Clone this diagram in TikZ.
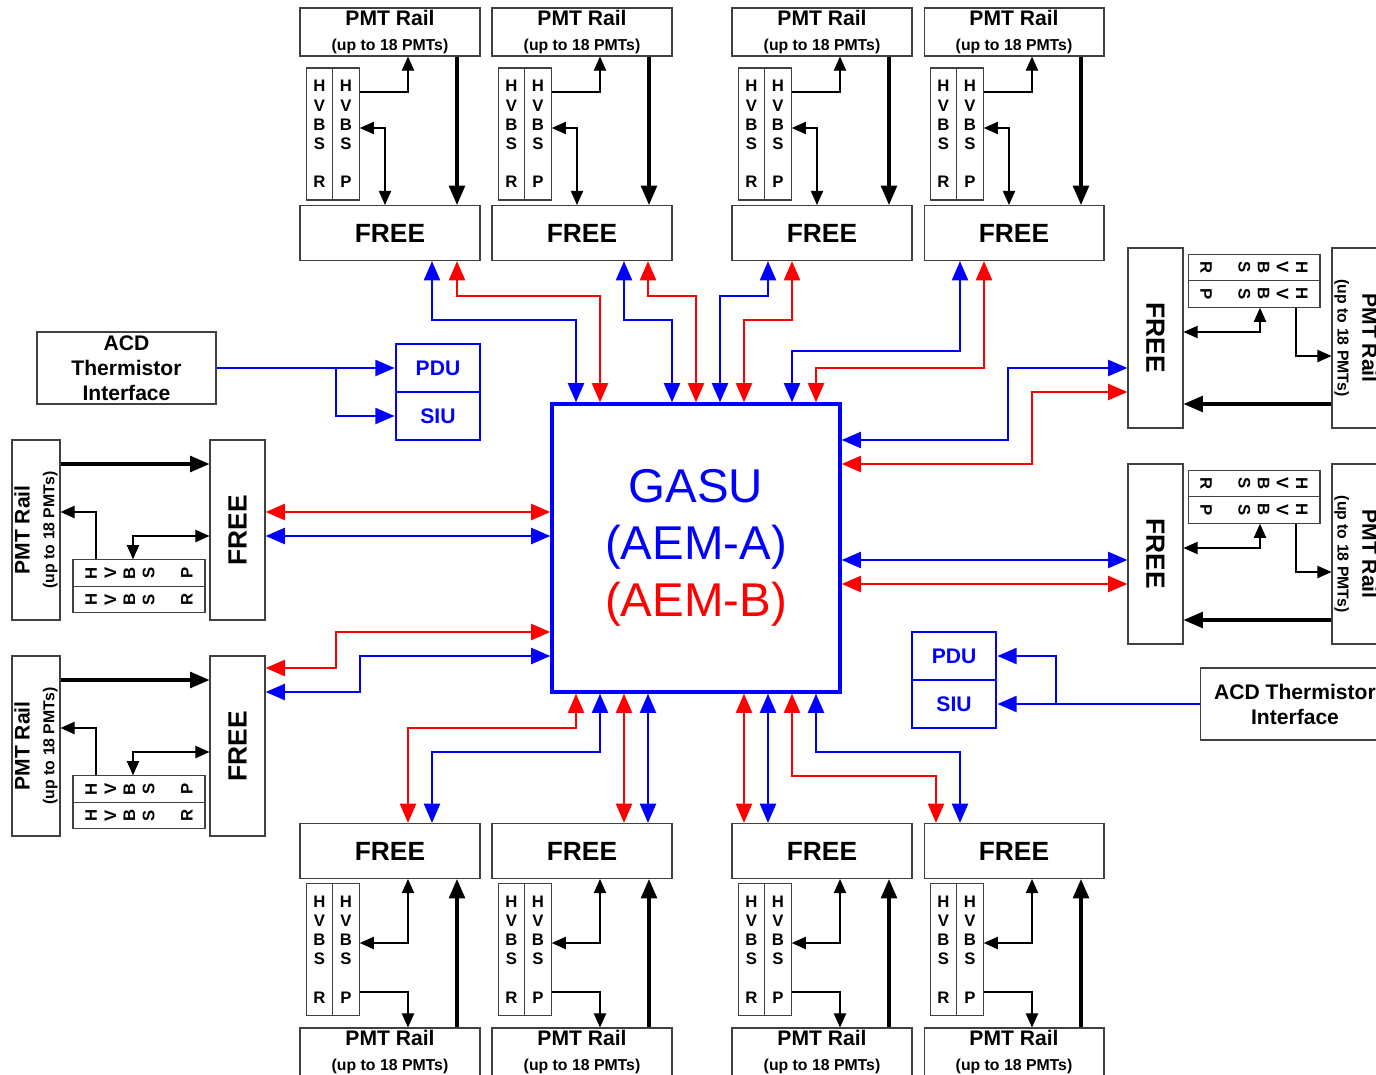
\documentclass[tikz,border=0pt]{standalone}
\usepackage{fontspec}
\setmainfont{Liberation Sans}
\usetikzlibrary{arrows.meta}

\newcommand{\railtxt}{PMT Rail\\[1pt]{\fontsize{9}{11}\selectfont (up to 18 PMTs)}}
\newcommand{\topmod}[2]{\begin{scope}[shift = {(#2,0)}]
\node[box, rail] (#1rail) at (90,32) {\railtxt};
\node[box, col] (#1r) at (19.5,134) {H\\V\\B\\S\\[10.9pt]R};
\node[box, col] (#1p) at (46,134) {H\\V\\B\\S\\[10.9pt]P};
\node[box, free] (#1free) at (90,233) {FREE};
\draw[thn, -tipsml] (#1p.east |- 0,92) -| (#1rail.south -| 108,0);
\draw[thn, tipsml-tipsml] (#1p.east |- 0,128) -| (#1free.north -| 85,0);
\draw[pow] (#1rail.south -| 157,0) -- (#1free.north -| 157,0);
\end{scope}}
\newcommand{\botmod}[2]{\begin{scope}[shift = {(#2,0)}]
\node[box, free] (#1free) at (90,851) {FREE};
\node[box, col] (#1r) at (19.5,949.5) {H\\V\\B\\S\\[10.9pt]R};
\node[box, col] (#1p) at (46,949.5) {H\\V\\B\\S\\[10.9pt]P};
\node[box, rail] (#1rail) at (90,1052) {\railtxt};
\draw[thn, tipsml-tipsml] (#1p.east |- 0,943) -| (#1free.south -| 108,0);
\draw[thn, -tipsml] (#1p.east |- 0,992) -| (#1rail.north -| 108,0);
\draw[pow] (#1rail.north -| 157,0) -- (#1free.south -| 157,0);
\end{scope}}
\newcommand{\leftmod}[2]{\begin{scope}[shift = {(0,#2)}]
\node[box, rail, rotate = 90] (#1rail) at (36,90) {\railtxt};
\node[box, col, rotate = 90] (#1p) at (139,133) {H\\V\\B\\S\\[10.9pt]P};
\node[box, col, rotate = 90] (#1r) at (139,159.5) {H\\V\\B\\S\\[10.9pt]R};
\node[box, free, rotate = 90] (#1free) at (237.5,90) {FREE};
\draw[thn, -tipsml] (#1p.east -| 96,0) |- (#1rail.south |- 0,72);
\draw[thn, tipsml-tipsml] (#1p.east -| 133,0) |- (#1free.north |- 0,96);
\draw[pow] (#1rail.south |- 0,24) -- (#1free.north |- 0,24);
\end{scope}}
\newcommand{\rightmod}[2]{\begin{scope}[shift = {(0,#2)}]
\node[box, free, rotate = -90] (#1free) at (1155.5,90) {FREE};
\node[box, col, rotate = -90] (#1r) at (1254,19.5) {H\\V\\B\\S\\[10.9pt]R};
\node[box, col, rotate = -90] (#1p) at (1254,46) {H\\V\\B\\S\\[10.9pt]P};
\node[box, rail, rotate = -90] (#1rail) at (1356,90) {\railtxt};
\draw[thn, -tipsml] (#1p.east -| 1296,0) |- (#1rail.south |- 0,108);
\draw[thn, tipsml-tipsml] (#1p.east -| 1260,0) |- (#1free.north |- 0,84);
\draw[pow] (#1rail.south |- 0,156) -- (#1free.north |- 0,156);
\end{scope}}

\begin{document}
\begin{tikzpicture}[x = 0.02cm, y = -0.02cm,
 tipbig/.tip = {Triangle[length = 11pt, width = 9pt]},
 tipsml/.tip = {Triangle[length = 8pt, width = 7pt]},
 box/.style = {draw = black!75, line width = 0.6pt, inner sep = 0pt, align = center, font = \bfseries},
 rail/.style = {minimum width = 3.6cm, minimum height = 0.96cm, font = \fontsize{12}{13}\selectfont\bfseries},
 col/.style = {minimum width = 0.53cm, minimum height = 2.64cm, font = \fontsize{9.5}{10.9}\selectfont\bfseries},
 free/.style = {minimum width = 3.6cm, minimum height = 1.1cm, font = \fontsize{15}{18}\selectfont\bfseries},
 acd/.style = {minimum height = 1.44cm, font = \fontsize{12}{14.2}\selectfont\bfseries},
 unit/.style = {draw = blue, line width = 1.5pt, text = blue, inner sep = 0pt, minimum width = 1.68cm, minimum height = 0.96cm, font = \fontsize{12}{14}\selectfont\bfseries},
 thn/.style = {line width = 0.6pt},
 pow/.style = {line width = 1.8pt, -tipbig},
 blu/.style = {draw = blue, line width = 1.6pt, tipbig-tipbig},
 rd/.style = {draw = red, line width = 1.6pt, tipbig-tipbig},
 feed/.style = {draw = blue, line width = 1.6pt, -tipbig}]
\useasboundingbox (0,0) rectangle (1376,1075);

\topmod{t1}{300}
\topmod{t2}{492}
\topmod{t3}{732}
\topmod{t4}{924}
\botmod{b1}{300}
\botmod{b2}{492}
\botmod{b3}{732}
\botmod{b4}{924}
\leftmod{l1}{440}
\leftmod{l2}{656}
\rightmod{r1}{248}
\rightmod{r2}{464}

\node[draw = blue, line width = 1.8pt, minimum size = 5.76cm, inner sep = 0pt, align = center,
 font = \fontsize{27}{32.6}\selectfont] (gasu) at (696,548)
 {\textcolor{blue}{GASU}\\\textcolor{blue}{(AEM-A)}\\\textcolor{red}{(AEM-B)}};

\node[unit] (pdu1) at (438,368) {PDU};
\node[unit] (siu1) at (438,416) {SIU};
\node[box, acd, minimum width = 3.58cm] (acd1) at (126.5,368) {ACD\\Thermistor\\Interface};
\draw[feed] (acd1.east) -- (pdu1.west);
\draw[feed] (acd1.east -| 336,0) |- (siu1.west);

\node[unit] (pdu2) at (954,656) {PDU};
\node[unit] (siu2) at (954,704) {SIU};
\node[box, acd, minimum width = 3.8cm] (acd2) at (1295,704) {ACD Thermistor\\Interface};
\draw[feed] (acd2.west) -- (siu2.east);
\draw[feed] (acd2.west -| 1056,0) |- (pdu2.east);

\draw[blu] (t1free.south -| 432,0) |- (576,320) -- (gasu.north -| 576,0);
\draw[rd] (t1free.south -| 457,0) |- (600,296) -- (gasu.north -| 600,0);
\draw[blu] (t2free.south -| 624,0) |- (672,320) -- (gasu.north -| 672,0);
\draw[rd] (t2free.south -| 648,0) |- (696,296) -- (gasu.north -| 696,0);
\draw[blu] (t3free.south -| 768,0) |- (720,296) -- (gasu.north -| 720,0);
\draw[rd] (t3free.south -| 792,0) |- (744,320) -- (gasu.north -| 744,0);
\draw[blu] (t4free.south -| 960,0) |- (792,351) -- (gasu.north -| 792,0);
\draw[rd] (t4free.south -| 984,0) |- (816,368) -- (gasu.north -| 816,0);

\draw[rd] (gasu.south -| 576,0) |- (408,728) -- (b1free.north -| 408,0);
\draw[blu] (gasu.south -| 600,0) |- (432,752) -- (b1free.north -| 432,0);
\draw[rd] (gasu.south -| 624,0) -- (b2free.north -| 624,0);
\draw[blu] (gasu.south -| 648,0) -- (b2free.north -| 648,0);
\draw[rd] (gasu.south -| 744,0) -- (b3free.north -| 744,0);
\draw[blu] (gasu.south -| 768,0) -- (b3free.north -| 768,0);
\draw[rd] (gasu.south -| 792,0) |- (936,776) -- (b4free.north -| 936,0);
\draw[blu] (gasu.south -| 816,0) |- (960,752) -- (b4free.north -| 960,0);

\draw[rd] (l1free.south |- 0,512) -- (gasu.west |- 0,512);
\draw[blu] (l1free.south |- 0,536) -- (gasu.west |- 0,536);
\draw[rd] (l2free.south |- 0,668) -| (336,632) -- (gasu.west |- 0,632);
\draw[blu] (l2free.south |- 0,692) -| (360,656) -- (gasu.west |- 0,656);

\draw[blu] (r1free.south |- 0,368) -| (1008,440) -- (gasu.east |- 0,440);
\draw[rd] (r1free.south |- 0,392) -| (1032,464) -- (gasu.east |- 0,464);
\draw[blu] (r2free.south |- 0,560) -- (gasu.east |- 0,560);
\draw[rd] (r2free.south |- 0,584) -- (gasu.east |- 0,584);
\end{tikzpicture}
\end{document}
